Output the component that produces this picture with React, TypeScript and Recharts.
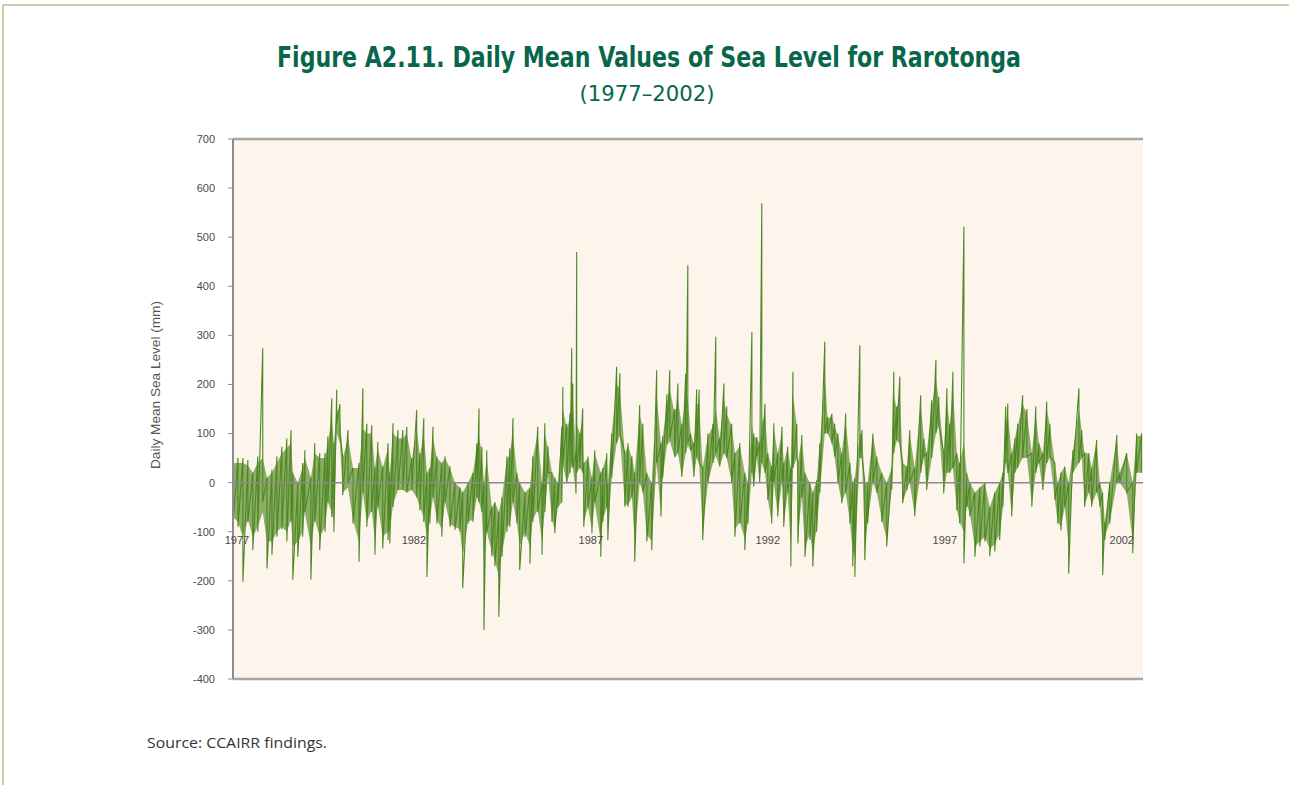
import React from 'react';
import { ComposedChart, Line, Area, XAxis, YAxis, CartesianGrid, ReferenceLine } from 'recharts';

const readYear = [
  1976.89, 1977.03, 1977.17, 1977.31, 1977.45, 1977.59, 1977.73, 1977.85, 1977.99, 1978.13,
  1978.27, 1978.41, 1978.53, 1978.58, 1978.72, 1978.86, 1978.92, 1979.09, 1979.20, 1979.34,
  1979.49, 1979.57, 1979.68, 1979.74, 1979.82, 1979.91, 1979.99, 1980.14, 1980.28, 1980.45,
  1980.56, 1980.67, 1980.81, 1980.90, 1980.98, 1981.12, 1981.27, 1981.32, 1981.41, 1981.55,
  1981.69, 1981.80, 1981.94, 1982.08, 1982.17, 1982.28, 1982.37, 1982.45, 1982.54, 1982.65,
  1982.79, 1982.88, 1983.02, 1983.16, 1983.30, 1983.38, 1983.53, 1983.67, 1983.78, 1983.84,
  1983.92, 1983.98, 1984.06, 1984.20, 1984.29, 1984.40, 1984.49, 1984.63, 1984.71, 1984.80,
  1984.91, 1984.99, 1985.14, 1985.28, 1985.36, 1985.50, 1985.62, 1985.70, 1985.79, 1985.90,
  1985.98, 1986.07, 1986.18, 1986.21, 1986.32, 1986.41, 1986.46, 1986.49, 1986.58, 1986.60,
  1986.69, 1986.77, 1986.80, 1986.92, 1987.03, 1987.11, 1987.28, 1987.34, 1987.45, 1987.48,
  1987.59, 1987.73, 1987.82, 1987.96, 1988.05, 1988.16, 1988.24, 1988.38, 1988.47, 1988.58,
  1988.72, 1988.86, 1988.98, 1989.03, 1989.15, 1989.23, 1989.37, 1989.46, 1989.57, 1989.68,
  1989.74, 1989.82, 1989.91, 1989.99, 1990.06, 1990.16, 1990.31, 1990.45, 1990.53, 1990.64,
  1990.76, 1990.84, 1990.98, 1991.07, 1991.21, 1991.35, 1991.44, 1991.55, 1991.60, 1991.69,
  1991.77, 1991.83, 1991.92, 1992.00, 1992.11, 1992.17, 1992.28, 1992.40, 1992.45, 1992.56,
  1992.65, 1992.71, 1992.82, 1992.85, 1992.96, 1993.05, 1993.19, 1993.27, 1993.38, 1993.47,
  1993.61, 1993.69, 1993.81, 1993.89, 1993.98, 1994.09, 1994.20, 1994.32, 1994.40, 1994.46,
  1994.60, 1994.66, 1994.74, 1994.82, 1994.97, 1995.08, 1995.22, 1995.36, 1995.50, 1995.56,
  1995.64, 1995.73, 1995.81, 1995.93, 1996.01, 1996.15, 1996.32, 1996.41, 1996.49, 1996.63,
  1996.75, 1996.83, 1996.97, 1997.06, 1997.14, 1997.23, 1997.34, 1997.42, 1997.54, 1997.62,
  1997.71, 1997.85, 1997.99, 1998.13, 1998.27, 1998.41, 1998.55, 1998.64, 1998.72, 1998.78,
  1998.89, 1998.98, 1999.06, 1999.20, 1999.32, 1999.46, 1999.57, 1999.66, 1999.77, 1999.88,
  1999.97, 2000.11, 2000.19, 2000.28, 2000.39, 2000.50, 2000.62, 2000.79, 2000.87, 2000.95,
  2001.07, 2001.15, 2001.29, 2001.38, 2001.46, 2001.52, 2001.66, 2001.86, 2001.94, 2002.14,
  2002.31, 2002.42, 2002.56,
];

// Upper excursion of the daily mean sea level at each time (mm), spikes included
const highMm = [
  53, 50, 50, 46, 20, 53, 274, 10, 26, 53,
  73, 90, 107, 20, 0, 40, 66, 10, 80, 60,
  60, 94, 172, 80, 189, 160, 53, 107, 30, 40,
  192, 120, 117, 30, 83, 33, 80, 20, 121, 107,
  107, 114, 50, 148, 60, 131, 20, 30, 114, 53,
  40, 53, 33, 0, -10, -20, 0, 20, 80, 151,
  73, 0, 66, -50, -40, -60, -30, 53, 70, 131,
  20, 0, -20, -10, 53, 114, 0, 121, 73, 20,
  10, 0, 114, 195, 120, 141, 274, 202, 60, 470,
  100, 151, 40, 53, 10, 66, 20, 30, 60, 0,
  100, 236, 223, 60, 80, 53, 20, 158, 120, 20,
  0, 229, 80, 94, 180, 229, 150, 202, 120, 222,
  443, 100, 80, 190, 189, 30, 100, 120, 297, 90,
  202, 155, 120, 60, 80, 20, 0, 307, 100, 93,
  80, 569, 161, 60, 33, 121, 60, 114, 40, 73,
  30, 226, 120, 40, 97, 20, 0, -20, 5, 80,
  287, 134, 140, 120, 100, 60, 141, 40, 0, 10,
  280, 107, 0, 0, 100, 53, 20, 0, 30, 226,
  155, 216, 40, 33, 107, 30, 178, 90, 60, 168,
  250, 175, 60, 192, 120, 226, 60, 40, 521, 20,
  0, -20, -10, 0, -50, -20, 0, 20, 155, 161,
  60, 90, 120, 178, 150, 60, 155, 80, 60, 165,
  120, 40, 0, 20, 33, 0, 66, 192, 107, 60,
  60, 30, 87, 0, -20, -80, 0, 97, 20, 60,
  0, 100, 100,
];

// Lower excursion of the daily mean sea level at each time (mm), spikes included
const lowMm = [
  -83, -90, -202, -80, -137, -100, -40, -175, -147, -110,
  -95, -120, -80, -198, -151, -110, -60, -198, -80, -137,
  -100, -40, -70, -100, 120, 100, -25, 0, -83, -161,
  -20, -90, -60, -147, -50, -134, -117, -124, -50, -15,
  -15, -20, -15, -30, -56, -80, -192, -83, -30, -83,
  -110, -40, -90, -96, -100, -215, -83, -80, -30, -40,
  -60, -300, -100, -150, -170, -273, -151, -100, -90, -40,
  -83, -178, -110, -165, -80, -60, -147, -60, 20, -80,
  -103, -50, -40, 40, 0, 20, 40, 30, -22, 20,
  30, 20, -90, -50, -103, -40, -151, -80, -50, -117,
  10, 80, 100, -49, -49, -30, -161, 0, -20, -120,
  -137, 40, -69, 10, 80, 90, 53, 60, 12, 60,
  80, 66, 12, 53, 40, -117, 0, 40, 60, 33,
  60, 50, 0, -110, -83, -137, -83, 20, -8, 53,
  0, 40, 20, -35, -83, 0, -69, 0, -90, -20,
  -171, 30, 53, -124, -30, -151, -117, -171, -100, -20,
  100, 100, 80, 53, 0, -42, -20, -83, -171, -192,
  50, 53, -158, -83, 0, -20, -80, -130, -15, 60,
  87, 80, -42, -15, 0, -69, 20, 53, -15, 50,
  100, 120, -22, 20, 20, 30, -56, -83, -164, -49,
  -69, -151, -130, -120, -150, -140, -117, -50, 40, 20,
  -69, 20, 30, 50, 53, -49, 20, 40, -15, 40,
  53, -35, -83, -97, -50, -185, 20, 40, 53, -49,
  -20, -49, -20, -49, -188, -117, -83, 0, 0, -20,
  -144, 20, 20,
];

// Top of the dense (non-spike) mass of daily values at each time (mm)
const coreTopMm = [
  40, 40, 40, 35, 20, 40, 50, 10, 20, 40,
  60, 70, 80, 20, 0, 30, 50, 10, 60, 50,
  50, 80, 130, 80, 150, 140, 50, 90, 30, 30,
  110, 100, 100, 30, 70, 30, 70, 20, 100, 90,
  90, 100, 45, 110, 55, 100, 20, 30, 90, 50,
  40, 50, 30, 0, -10, -20, 0, 20, 70, 90,
  65, 0, 50, -50, -40, -60, -30, 45, 60, 100,
  20, 0, -20, -10, 50, 100, 0, 100, 70, 20,
  10, 0, 100, 150, 110, 130, 170, 170, 60, 120,
  100, 130, 40, 50, 10, 60, 20, 30, 55, 0,
  100, 200, 190, 60, 75, 50, 20, 140, 110, 20,
  0, 180, 80, 90, 160, 190, 140, 170, 115, 180,
  170, 100, 80, 160, 160, 30, 95, 115, 150, 90,
  170, 140, 115, 60, 75, 20, 0, 120, 95, 90,
  80, 120, 140, 60, 33, 110, 60, 100, 40, 70,
  30, 180, 115, 40, 90, 20, 0, -20, 5, 75,
  220, 130, 135, 115, 95, 60, 125, 40, 0, 10,
  100, 100, 0, 0, 95, 50, 20, 0, 30, 180,
  150, 180, 40, 33, 100, 30, 160, 90, 60, 155,
  210, 170, 60, 170, 115, 190, 60, 40, 80, 20,
  0, -20, -10, 0, -50, -20, 0, 20, 120, 140,
  60, 90, 115, 160, 140, 60, 140, 80, 60, 150,
  115, 40, 0, 20, 33, 0, 65, 150, 105, 60,
  60, 30, 85, 0, -20, -80, 0, 90, 20, 60,
  0, 95, 95,
];

// Bottom of the dense (non-spike) mass of daily values at each time (mm)
const coreBottomMm = [
  -70, -80, -110, -75, -110, -90, -60, -120, -120, -100,
  -90, -100, -75, -130, -120, -100, -60, -130, -75, -110,
  -90, -40, -60, -80, 100, 80, -20, -10, -75, -120,
  -20, -80, -55, -120, -45, -110, -100, -100, -45, -15,
  -15, -20, -15, -30, -50, -70, -110, -75, -30, -75,
  -95, -40, -85, -90, -95, -150, -80, -75, -30, -40,
  -60, -160, -100, -140, -160, -190, -140, -90, -85, -40,
  -80, -130, -100, -130, -75, -55, -120, -55, 15, -75,
  -95, -50, -40, 35, 0, 20, 35, 30, -20, 20,
  30, 20, -80, -50, -95, -40, -120, -75, -50, -100,
  10, 80, 95, -45, -45, -30, -120, 0, -20, -105,
  -120, 40, -65, 10, 75, 85, 50, 60, 12, 60,
  75, 65, 12, 50, 40, -100, 0, 40, 55, 33,
  60, 50, 0, -95, -80, -115, -80, 20, -8, 50,
  0, 40, 20, -35, -80, 0, -65, 0, -85, -20,
  -130, 30, 50, -110, -30, -130, -105, -140, -95, -20,
  100, 100, 80, 50, 0, -40, -20, -80, -140, -150,
  50, 50, -130, -80, 0, -20, -75, -115, -15, 60,
  85, 80, -40, -15, 0, -65, 20, 50, -15, 50,
  100, 115, -20, 20, 20, 30, -55, -80, -100, -45,
  -65, -130, -120, -110, -135, -125, -105, -50, 40, 20,
  -65, 20, 30, 50, 50, -45, 20, 40, -15, 40,
  50, -35, -80, -90, -50, -130, 20, 40, 50, -45,
  -20, -45, -20, -45, -130, -110, -80, 0, 0, -20,
  -120, 20, 20,
];

const yTicks = [-400, -300, -200, -100, 0, 100, 200, 300, 400, 500, 600, 700];
const yearTicks = [1977, 1982, 1987, 1992, 1997, 2002];

const seaLevel = readYear.flatMap((t, i) => [
  { t, v: highMm[i] },
  { t, v: lowMm[i] },
]);

const coreBand = readYear.map((t, i) => ({ t, band: [coreBottomMm[i], coreTopMm[i]] }));

const GREEN_TITLE = '#07664b';

const YearTick = (props: any) => {
  const { x, payload } = props;
  return (
    <text
      x={x}
      y={544}
      textAnchor="middle"
      fontSize={11}
      fontFamily="'Liberation Sans', Arial, sans-serif"
      fill="#4a4a4a"
    >
      {payload.value}
    </text>
  );
};

export default function App() {
  return (
    <div
      style={{
        position: 'absolute',
        left: 0,
        top: 0,
        width: 1289,
        height: 785,
        background: '#ffffff',
        overflow: 'hidden',
      }}
    >
      <div
        style={{
          position: 'absolute',
          left: 2,
          top: 4,
          width: 1290,
          height: 790,
          borderTop: '2px solid #c9d2a6',
          borderLeft: '2px solid #c9d2a6',
        }}
      />
      <svg
        width={1289}
        height={785}
        style={{ position: 'absolute', left: 0, top: 0 }}
      >
        <text
          x={649}
          y={67}
          textAnchor="middle"
          fontSize={28}
          fontWeight={700}
          fontFamily="'Liberation Sans Narrow', 'DejaVu Sans Condensed', 'Open Sans', sans-serif"
          fill={GREEN_TITLE}
          textLength={744}
          lengthAdjust="spacingAndGlyphs"
        >
          Figure A2.11. Daily Mean Values of Sea Level for Rarotonga
        </text>
        <text
          x={647}
          y={101}
          textAnchor="middle"
          fontSize={21}
          fontFamily="'Liberation Sans Narrow', 'DejaVu Sans Condensed', 'Open Sans', sans-serif"
          fill={GREEN_TITLE}
          textLength={135}
          lengthAdjust="spacingAndGlyphs"
        >
          (1977–2002)
        </text>
        <text
          x={0}
          y={0}
          transform="translate(160 385) rotate(-90)"
          textAnchor="middle"
          fontSize={12.5}
          fontFamily="'Liberation Sans', Arial, sans-serif"
          fill="#555555"
          textLength={168}
          lengthAdjust="spacingAndGlyphs"
        >
          Daily Mean Sea Level (mm)
        </text>
        <text
          x={147}
          y={748}
          fontSize={14}
          fontFamily="'Open Sans', 'Noto Sans', sans-serif"
          fill="#333333"
          textLength={180}
          lengthAdjust="spacingAndGlyphs"
        >
          Source: CCAIRR findings.
        </text>
      </svg>
      <div style={{ position: 'absolute', left: 0, top: 0 }}>
        <ComposedChart
          width={1289}
          height={785}
          margin={{ top: 139, right: 146, bottom: 76, left: 173 }}
        >
          <CartesianGrid
            fill="#fdf5ec"
            stroke="none"
            horizontal={false}
            vertical={false}
          />
          <XAxis
            dataKey="t"
            type="number"
            domain={[1976.89, 2002.6]}
            ticks={yearTicks}
            allowDataOverflow
            height={30}
            tick={<YearTick />}
            tickLine={false}
            axisLine={{ stroke: '#a6a6a6', strokeWidth: 2.5 }}
          />
          <YAxis
            type="number"
            domain={[-400, 700]}
            ticks={yTicks}
            width={60}
            tickSize={5}
            tickMargin={13}
            interval={0}
            tick={{ fontSize: 11, fill: '#4a4a4a', fontFamily: "'Liberation Sans', Arial, sans-serif" }}
            tickLine={{ stroke: '#8c8c8c' }}
            axisLine={{ stroke: '#8c8c8c', strokeWidth: 2 }}
          />
          <Area
            data={coreBand}
            dataKey="band"
            type="linear"
            stroke="none"
            fill="#5a8f2c"
            fillOpacity={0.7}
            isAnimationActive={false}
          />
          <Line
            data={seaLevel}
            dataKey="v"
            type="linear"
            stroke="#4c8722"
            strokeWidth={1.1}
            dot={false}
            isAnimationActive={false}
          />
          <ReferenceLine y={0} stroke="#8a8a8a" strokeWidth={1.5} />
          <ReferenceLine y={700} stroke="#a6a6a6" strokeWidth={2.5} />
        </ComposedChart>
      </div>
    </div>
  );
}
